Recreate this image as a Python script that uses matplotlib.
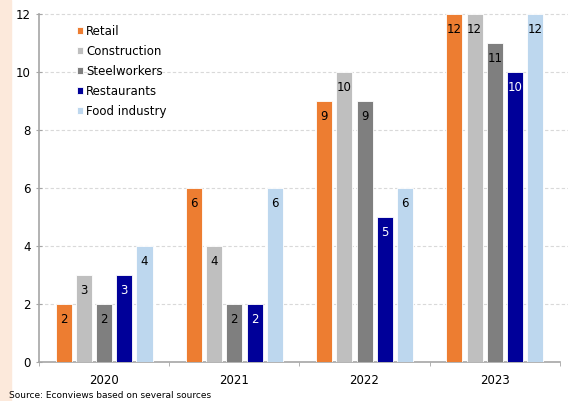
import numpy as np
import matplotlib.pyplot as plt
from matplotlib.patches import Rectangle

years = ["2020", "2021", "2022", "2023"]
series = ["Retail", "Construction", "Steelworkers", "Restaurants", "Food industry"]
retail = [2, 6, 9, 12]
construction = [3, 4, 10, 12]
steelworkers = [2, 2, 9, 11]
restaurants = [3, 2, 5, 10]
food_industry = [4, 6, 6, 12]

values = [retail, construction, steelworkers, restaurants, food_industry]
colors = ["#ED7D31", "#BFBFBF", "#7F7F7F", "#000099", "#BDD7EE"]
label_colors = ["black", "black", "black", "white", "black"]

fig = plt.figure(figsize=(5.68, 4.01), dpi=100)
fig.patches.append(Rectangle((0, 0), 0.019, 1, transform=fig.transFigure,
                             color="#FCE9DB", zorder=0))
ax = fig.add_axes([0.0687, 0.0973, 0.917, 0.868])

x = np.arange(len(years))
step = 0.155
width = 0.123
for i, (name, vals) in enumerate(zip(series, values)):
    pos = x + (i - 2) * step
    ax.bar(pos, vals, width, color=colors[i], edgecolor="white",
           linewidth=0.6, label=name, zorder=3)
    for p, v in zip(pos, vals):
        ax.annotate(str(v), (p, v), xytext=(0, -11), textcoords="offset points",
                    ha="center", va="center", fontsize=8.5,
                    color=label_colors[i], zorder=4)

ax.set_xlim(-0.5, 3.5)
ax.set_ylim(0, 12)
ax.set_yticks(range(0, 13, 2))
ax.set_xticks(x)
ax.set_xticklabels(years)
ax.set_xticks(np.arange(-0.5, 3.6, 1), minor=True)
ax.tick_params(axis="x", which="major", length=0, labelsize=8.5, pad=9)
ax.tick_params(axis="x", which="minor", length=3, direction="out", color="#A6A6A6")
ax.tick_params(axis="y", length=5, direction="inout", color="#A6A6A6", labelsize=8.5)

# dashed gridlines run a little past the end of the axis
gtrans = ax.get_yaxis_transform()
for yv in range(2, 13, 2):
    ax.plot([0, 1.02], [yv, yv], transform=gtrans, clip_on=False,
            linestyle=(0, (3, 2)), color="#D9D9D9", linewidth=0.8, zorder=0)

for s in ["top", "right"]:
    ax.spines[s].set_visible(False)
for s in ["left", "bottom"]:
    ax.spines[s].set_color("#A6A6A6")
    ax.spines[s].set_linewidth(1.2)

leg = ax.legend(loc="upper left", bbox_to_anchor=(0.052, 1.0), frameon=False,
                fontsize=8.5, handlelength=0.55, handleheight=0.55,
                handletextpad=0.25, labelspacing=0.6)

fig.text(0.016, 0.008, "Source: Econviews based on several sources", fontsize=6.5)

fig.savefig("out.png", dpi=100)
